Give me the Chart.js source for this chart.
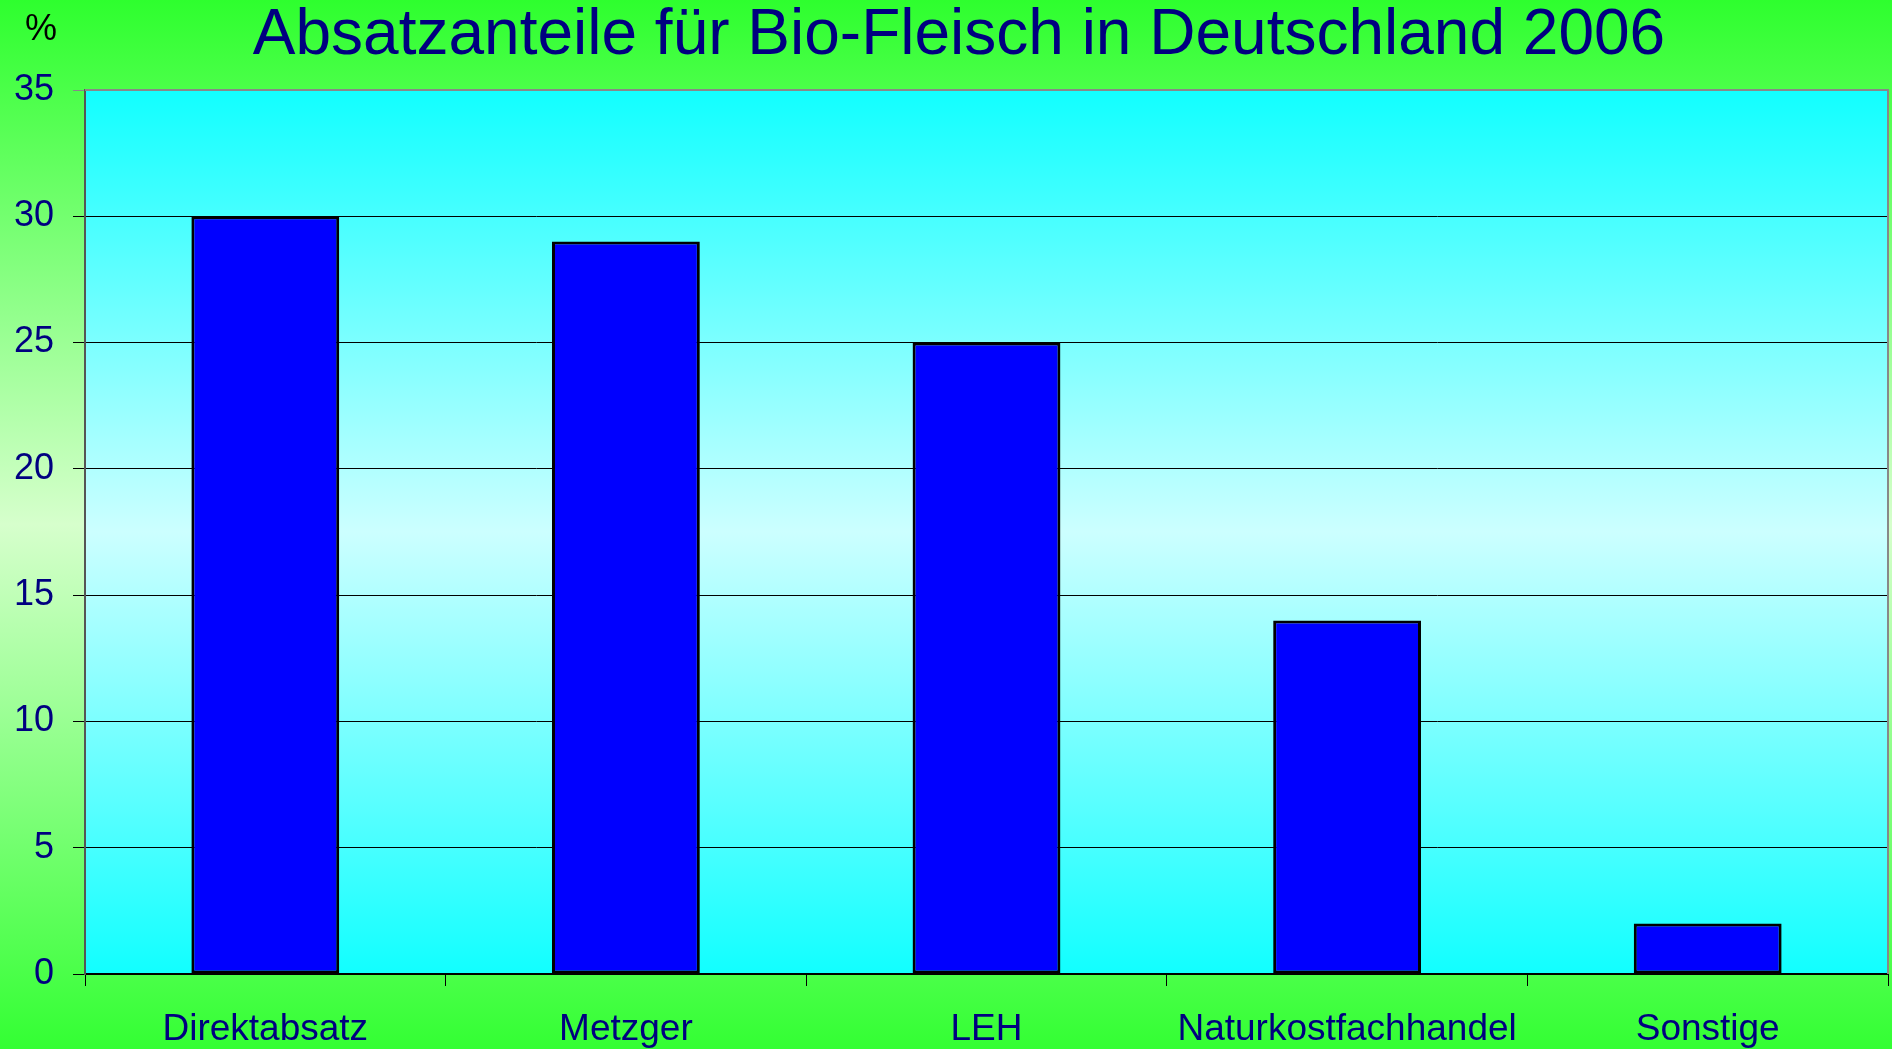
<!DOCTYPE html>
<html>
<head>
<meta charset="utf-8">
<script src="https://cdn.jsdelivr.net/npm/chart.js@4/dist/chart.umd.min.js"></script>
<style>
html,body{margin:0;padding:0;overflow:hidden;}
#wrap{width:1892px;height:1049px;position:relative;}
</style>
</head>
<body>
<div id="wrap"><canvas id="c"></canvas></div>
<script>
const categories = ["Direktabsatz", "Metzger", "LEH", "Naturkostfachhandel", "Sonstige"];
const shares = [30, 29, 25, 14, 2];
const yTicks = [0, 5, 10, 15, 20, 25, 30, 35];
const chartTitle = "Absatzanteile für Bio-Fleisch in Deutschland 2006";
const unitLabel = "%";

const FONT = "'Liberation Sans', Arial, Helvetica, sans-serif";
const NAVY = "#000080";

const bgPlugin = {
  id: 'bgPlugin',
  beforeDraw(chart) {
    const ctx = chart.ctx;
    const W = chart.width, H = chart.height;
    ctx.save();
    const g = ctx.createLinearGradient(0, 0, 0, H);
    g.addColorStop(0, '#2eff2e');
    g.addColorStop(0.5, '#d6ffcc');
    g.addColorStop(1, '#33ff33');
    ctx.fillStyle = g;
    ctx.fillRect(0, 0, W, H);
    const a = chart.chartArea;
    const g2 = ctx.createLinearGradient(0, a.top, 0, a.bottom);
    g2.addColorStop(0, '#11ffff');
    g2.addColorStop(0.5, '#ccffff');
    g2.addColorStop(1, '#11ffff');
    ctx.fillStyle = g2;
    ctx.fillRect(a.left, a.top, a.right - a.left, a.bottom - a.top);
    // unit label
    ctx.fillStyle = '#000000';
    ctx.font = '36px ' + FONT;
    ctx.textAlign = 'center';
    ctx.textBaseline = 'alphabetic';
    ctx.fillText(unitLabel, 41, 40);
    // title
    ctx.fillStyle = NAVY;
    ctx.font = '64px ' + FONT;
    ctx.textAlign = 'center';
    ctx.fillText(chartTitle, 959, 54);
    ctx.restore();
  },
  afterDatasetsDraw(chart) {
    const ctx = chart.ctx;
    const a = chart.chartArea;
    ctx.save();
    ctx.strokeStyle = '#888888';
    ctx.lineWidth = 2;
    ctx.beginPath();
    ctx.moveTo(a.left, a.top);
    ctx.lineTo(a.right, a.top);
    ctx.lineTo(a.right, a.bottom);
    ctx.stroke();
    ctx.restore();
  }
};

new Chart(document.getElementById('c'), {
  type: 'bar',
  data: {
    labels: categories,
    datasets: [{
      data: shares,
      backgroundColor: '#0000ff',
      borderColor: '#000000',
      borderWidth: 3,
      borderSkipped: false,
      barPercentage: 0.41,
      categoryPercentage: 1.0
    }]
  },
  options: {
    responsive: true,
    maintainAspectRatio: false,
    animation: false,
    layout: { padding: { left: 0, right: 4, top: 90, bottom: 0 } },
    plugins: {
      legend: { display: false },
      tooltip: { enabled: false },
      title: { display: false }
    },
    scales: {
      x: {
        offset: true,
        grid: {
          offset: true,
          display: true,
          drawOnChartArea: false,
          drawTicks: true,
          tickLength: 12,
          color: '#000000',
          lineWidth: 1
        },
        border: { display: true, color: '#000000', width: 2 },
        ticks: {
          color: NAVY,
          font: { family: FONT, size: 37 },
          padding: 22,
          maxRotation: 0,
          autoSkip: false
        },
        afterFit(scale) { scale.height = 75; }
      },
      y: {
        min: 0,
        max: 35,
        afterBuildTicks(scale) { scale.ticks = yTicks.map(v => ({ value: v })); },
        grid: {
          drawTicks: true,
          tickLength: 12,
          color: (c) => (c.tick && c.tick.value === 35) ? '#888888' : '#000000',
          lineWidth: 1
        },
        border: { display: true, color: '#555555', width: 2 },
        ticks: {
          color: NAVY,
          font: { family: FONT, size: 36 },
          padding: 19
        },
        afterFit(scale) { scale.width = 85; }
      }
    }
  },
  plugins: [bgPlugin]
});
</script>
</body>
</html>
